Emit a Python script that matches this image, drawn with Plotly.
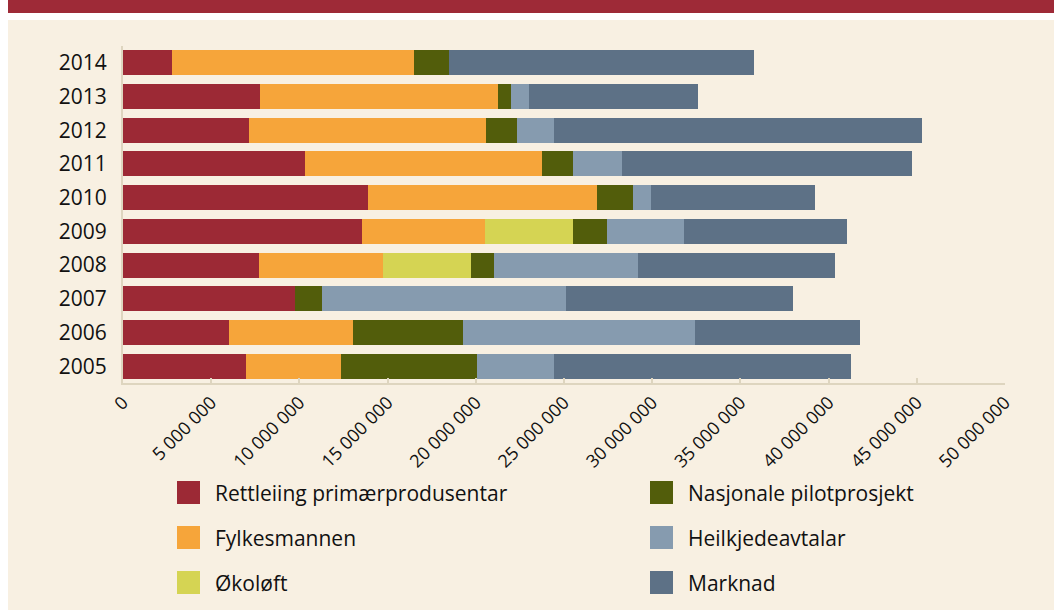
import plotly.graph_objects as go

years = ["2005", "2006", "2007", "2008", "2009", "2010", "2011", "2012", "2013", "2014"]

series_names = [
    "Rettleiing primærprodusentar",
    "Fylkesmannen",
    "Økoløft",
    "Nasjonale pilotprosjekt",
    "Heilkjedeavtalar",
    "Marknad",
]
series_colors = ["#9C2935", "#F6A53A", "#D5D453", "#525D0B", "#869BAF", "#5D7186"]

# values in NOK, per year 2005..2014
rettleiing = [6.99e6, 6.03e6, 9.77e6, 7.73e6, 13.57e6, 13.91e6, 10.33e6, 7.16e6, 7.78e6, 2.79e6]
fylkesmannen = [5.39e6, 7.03e6, 0, 7.03e6, 6.97e6, 12.98e6, 13.45e6, 13.43e6, 13.49e6, 13.72e6]
okoloft = [0, 0, 0, 4.98e6, 4.99e6, 0, 0, 0, 0, 0]
nasjonale = [7.71e6, 6.23e6, 1.53e6, 1.31e6, 1.92e6, 2.03e6, 1.74e6, 1.77e6, 0.73e6, 1.99e6]
heilkjede = [4.36e6, 13.15e6, 13.83e6, 8.16e6, 4.37e6, 1.03e6, 2.79e6, 2.09e6, 1.04e6, 0]
marknad = [16.84e6, 9.36e6, 12.87e6, 11.17e6, 9.24e6, 9.29e6, 16.44e6, 20.86e6, 9.58e6, 17.28e6]

series_values = [rettleiing, fylkesmannen, okoloft, nasjonale, heilkjede, marknad]

tick_values = [0, 5e6, 10e6, 15e6, 20e6, 25e6, 30e6, 35e6, 40e6, 45e6, 50e6]
tick_labels = ["0", "5 000 000", "10 000 000", "15 000 000", "20 000 000", "25 000 000",
               "30 000 000", "35 000 000", "40 000 000", "45 000 000", "50 000 000"]

W, H = 1054, 610
ML, MR, MT, MB = 123, 49, 46, 227
PW, PH = W - ML - MR, H - MT - MB

FONT = "Open Sans"
BG = "#F8F0E2"
AXIS = "#DED5BF"

fig = go.Figure()
for name, color, vals in zip(series_names, series_colors, series_values):
    fig.add_trace(go.Bar(
        y=years, x=vals, name=name, orientation="h",
        marker=dict(color=color, line=dict(width=0)),
        showlegend=False,
    ))


def px_x(px):
    return (px - ML) / PW


def px_y(py):
    return (H - MB - py) / PH


shapes = []
# page background panel
shapes.append(dict(type="rect", xref="paper", yref="paper",
                   x0=px_x(8), x1=px_x(W + 5), y0=px_y(20), y1=px_y(H + 5),
                   fillcolor=BG, line=dict(width=0), layer="below"))
# header band
shapes.append(dict(type="rect", xref="paper", yref="paper",
                   x0=px_x(8), x1=px_x(W + 5), y0=px_y(-5), y1=px_y(13),
                   fillcolor="#9E2A37", line=dict(width=0), layer="below"))

annotations = []
legend_cols = [(177, 213), (650, 686)]
legend_rows = [493, 538, 583]
for i, (name, color) in enumerate(zip(series_names, series_colors)):
    col = i // 3
    row = i % 3
    sx, tx = legend_cols[col]
    cy = legend_rows[row]
    shapes.append(dict(type="rect", xref="paper", yref="paper",
                       x0=px_x(sx), x1=px_x(sx + 23), y0=px_y(cy - 12), y1=px_y(cy + 11),
                       fillcolor=color, line=dict(width=0)))
    annotations.append(dict(xref="paper", yref="paper", x=px_x(tx), y=px_y(cy),
                            text=name, showarrow=False, xanchor="left", yanchor="middle",
                            font=dict(family=FONT, size=21, color="#111111")))

fig.update_layout(
    width=W, height=H,
    margin=dict(l=ML, r=MR, t=MT, b=MB, autoexpand=False),
    barmode="stack", bargap=0.26,
    paper_bgcolor="white", plot_bgcolor="rgba(0,0,0,0)",
    font=dict(family=FONT, color="#111111"),
    shapes=shapes, annotations=annotations,
    xaxis=dict(range=[0, 50e6], tickmode="array", tickvals=tick_values, ticktext=tick_labels,
               tickangle=-45, tickfont=dict(size=18, family=FONT, color="#111111"),
               showgrid=False, zeroline=False, showline=True, linecolor=AXIS, linewidth=2,
               ticks="inside", ticklen=5, tickcolor=AXIS, tickwidth=2, fixedrange=True),
    yaxis=dict(type="category", categoryorder="array", categoryarray=years,
               tickfont=dict(size=21, family=FONT, color="#111111"),
               showgrid=False, zeroline=False, showline=True, linecolor=AXIS, linewidth=2,
               ticks="", ticklabelstandoff=10, fixedrange=True),
)

fig.write_html("out.html", config={"displayModeBar": False},
               post_script="document.body.style.margin='0';")
